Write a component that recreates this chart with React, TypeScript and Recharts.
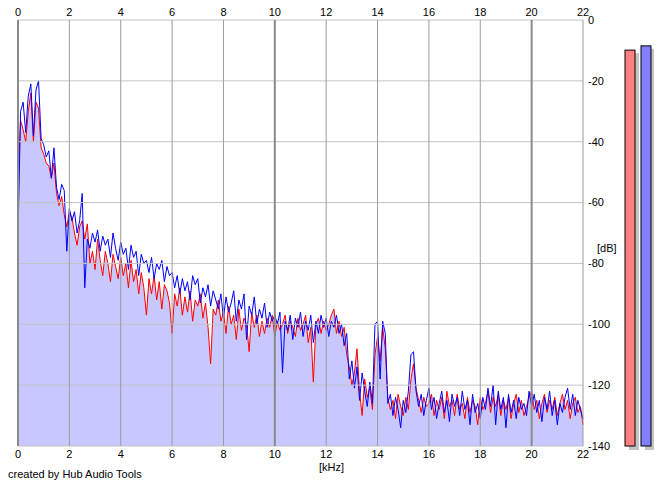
import {
  Area,
  Bar,
  BarChart,
  Cell,
  ComposedChart,
  Line,
  ReferenceLine,
  XAxis,
  YAxis,
} from "recharts";

const FONT = "'Liberation Sans', Arial, sans-serif";

// frequency grid step in kHz (bins 0.0 .. 22.0)
const FREQ_STEP = 0.1;
const KHZ_TICKS = [0, 2, 4, 6, 8, 10, 12, 14, 16, 18, 20, 22];
const KHZ_MAJOR = [0, 10, 20];
const DB_TICKS = [0, -20, -40, -60, -80, -100, -120, -140];

// right channel (blue), dB per 0.1 kHz bin
const BLUE = [
  -71, -30, -27, -37, -25, -21, -38, -23, -20, -39,
  -41, -45, -43, -52, -42, -55, -59, -54, -56, -76,
  -62, -66, -63, -70, -66, -57, -88, -72, -75, -70,
  -73, -69, -76, -71, -74, -72, -78, -70, -75, -79,
  -73, -77, -75, -82, -74, -78, -76, -84, -77, -80,
  -79, -83, -78, -85, -80, -82, -79, -86, -81, -84,
  -83, -88, -84, -90, -85, -89, -86, -92, -84, -87,
  -85, -93, -88, -91, -87, -94, -89, -92, -95, -90,
  -98, -91, -96, -93, -89, -99, -92, -95, -90, -105,
  -94, -97, -91, -100, -95, -98, -93, -101, -96, -99,
  -97, -100, -96, -116, -99, -102, -97, -105, -98, -101,
  -96, -104, -99, -102, -97, -106, -99, -103, -97, -101,
  -98, -104, -99, -101, -97, -103, -100, -107, -103, -118,
  -112, -121, -114, -125, -116, -122, -127, -119, -126, -100,
  -99, -118, -99, -103, -126, -123, -130, -124, -128, -134,
  -125, -129, -122, -110, -109, -122, -127, -123, -130, -125,
  -121, -128, -124, -131, -126, -122, -129, -125, -132, -123,
  -127, -124, -130, -122, -128, -125, -133, -123, -129, -126,
  -131, -124, -128, -121, -127, -120, -133, -122, -128, -124,
  -134, -123, -129, -125, -131, -124, -128, -126, -130, -122,
  -127, -123, -129, -125, -132, -124, -128, -122, -130, -125,
  -133, -126, -129, -124, -121, -128, -123, -130, -125, -128,
  -131,
];

// left channel (red)
const RED = [
  -54, -33, -36, -40, -30, -24, -40, -27, -29, -42,
  -44, -47, -48, -52, -47, -57, -61, -58, -64, -68,
  -63, -65, -70, -74, -68, -66, -72, -67, -80, -76,
  -82, -72, -79, -84, -76, -80, -86, -77, -81, -85,
  -78, -84, -80, -88, -79, -86, -82, -90, -83, -88,
  -97, -85, -90, -84, -92, -86, -95, -87, -89, -93,
  -103, -90, -94, -88, -97, -91, -96, -89, -99, -92,
  -94, -90, -98, -93, -101, -113, -95, -97, -92, -99,
  -96, -103, -94, -100, -97, -105, -95, -102, -98, -100,
  -109, -96, -101, -97, -104, -99, -103, -98, -101, -97,
  -104, -99, -102, -100, -97, -103, -99, -101, -104, -98,
  -102, -100, -97, -106, -101, -119, -100, -98, -103, -99,
  -102, -100, -97, -95, -103, -99, -104, -101, -110, -114,
  -120, -116, -108, -122, -130, -118, -124, -121, -128, -110,
  -104, -112, -101, -108, -124, -128, -125, -131, -123, -127,
  -130, -124, -128, -118, -113, -121, -125, -129, -124, -127,
  -126, -123, -130, -125, -128, -124, -131, -122, -127, -125,
  -130, -123, -128, -126, -131, -124, -129, -125, -127, -133,
  -124, -128, -126, -122, -129, -124, -127, -123, -130, -125,
  -128, -124, -131, -126, -123, -129, -125, -130, -127, -124,
  -122, -128, -125, -131, -126, -123, -129, -125, -128, -124,
  -130, -126, -123, -128, -125, -131, -126, -124, -129, -127,
  -133,
];

// peak meters on the right: [floor, level] in dB
const METER_CHANNELS = ["L", "R"];
const METER_LEVELS = [-9.9, -8.5];
const METER_COLORS = ["#ff8080", "#8080ff"];

const spectrum = BLUE.map((b, i) => ({
  f: Math.round(i * FREQ_STEP * 10) / 10,
  right: b,
  left: RED[i],
}));

const meters = METER_CHANNELS.map((ch, i) => ({ ch, lvl: [-140, METER_LEVELS[i]] }));

const TICK = { fontSize: 11, fill: "#000", fontFamily: FONT };

function MeterBar(props: any) {
  const { x, y, width, height, fill } = props;
  return (
    <g>
      <rect x={x + 4} y={y + 3} width={width} height={height + 1} fill="#c4c4c4" />
      <rect x={x} y={y} width={width} height={height} fill={fill} stroke="#000" strokeWidth={1} />
    </g>
  );
}

export default function App() {
  return (
    <div style={{ position: "absolute", left: 0, top: 0, width: 665, height: 487, background: "#fff", fontFamily: FONT }}>
      <ComposedChart
        width={665}
        height={487}
        data={spectrum}
        margin={{ top: 0, right: 42, bottom: 21, left: 18 }}
      >
        <XAxis
          dataKey="f"
          type="number"
          domain={[0, 22]}
          ticks={KHZ_TICKS}
          axisLine={false}
          tickLine={false}
          tickSize={0}
          tickMargin={4}
          height={20}
          tick={TICK}
          interval={0}
        />
        <XAxis
          xAxisId="top"
          orientation="top"
          dataKey="f"
          type="number"
          domain={[0, 22]}
          ticks={KHZ_TICKS}
          axisLine={false}
          tickLine={false}
          tickSize={0}
          tickMargin={4}
          height={20}
          tick={TICK}
          interval={0}
        />
        <YAxis
          orientation="right"
          domain={[-140, 0]}
          ticks={DB_TICKS}
          axisLine={false}
          tickLine={false}
          tickSize={0}
          tickMargin={5}
          width={40}
          tick={TICK}
          interval={0}
        />
        <Area
          type="linear"
          dataKey="left"
          baseValue={-140}
          stroke="none"
          fill="#c8c8ff"
          fillOpacity={1}
          isAnimationActive={false}
        />
        <Line type="linear" dataKey="left" stroke="#ff0000" strokeWidth={1} dot={false} isAnimationActive={false} />
        <Line type="linear" dataKey="right" stroke="#0000ff" strokeWidth={1} dot={false} isAnimationActive={false} />
        {DB_TICKS.map((d) => (
          <ReferenceLine key={`h${d}`} y={d} stroke="#c4c4c4" strokeWidth={1} />
        ))}
        {KHZ_TICKS.map((k) => (
          <ReferenceLine
            key={`v${k}`}
            x={k}
            stroke={KHZ_MAJOR.includes(k) ? "#8a8a8a" : "#9c9c9c"}
            strokeWidth={KHZ_MAJOR.includes(k) ? 2 : 1}
          />
        ))}
      </ComposedChart>

      <div style={{ position: "absolute", left: 622, top: 0 }}>
        <BarChart width={32} height={487} data={meters} margin={{ top: 20, right: 0, bottom: 41, left: 0 }}>
          <XAxis dataKey="ch" hide />
          <YAxis domain={[-140, 0]} hide />
          <Bar dataKey="lvl" barSize={10} shape={<MeterBar />} isAnimationActive={false}>
            {meters.map((m, i) => (
              <Cell key={m.ch} fill={METER_COLORS[i]} />
            ))}
          </Bar>
        </BarChart>
      </div>

      <div style={{ position: "absolute", left: 597, top: 242, fontSize: 11 }}>[dB]</div>
      <div style={{ position: "absolute", left: 319, top: 461, fontSize: 11 }}>[kHz]</div>
      <div style={{ position: "absolute", left: 8, top: 468, fontSize: 11 }}>created by Hub Audio Tools</div>
    </div>
  );
}
